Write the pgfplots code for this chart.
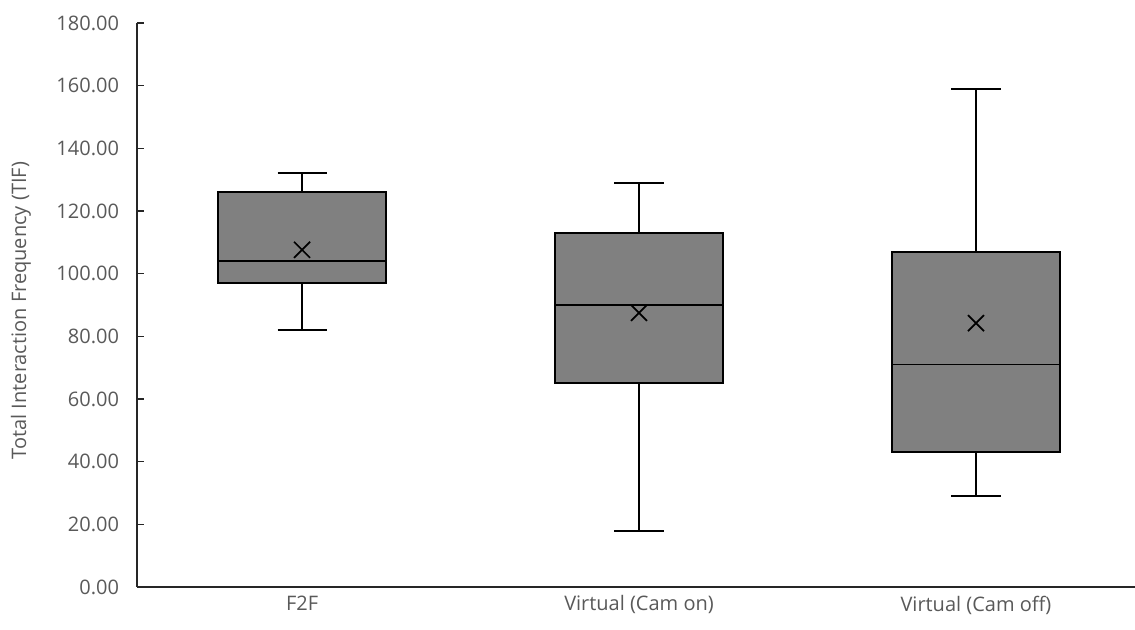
\documentclass[border=0pt]{standalone}
\usepackage{fontspec}
\setmainfont{Open Sans}
\usepackage{pgfplots}
\pgfplotsset{compat=1.18}
\usepgfplotslibrary{statistics}
\definecolor{txt}{RGB}{89,89,89}
\definecolor{boxfill}{RGB}{128,128,128}
\begin{document}
\begin{tikzpicture}
\path[use as bounding box] (-102.75pt,-32.25pt) rectangle (748.5pt,440.25pt);
\begin{axis}[
  at={(0,0)}, anchor=south west,
  scale only axis, width=748.5pt, height=423pt,
  xmin=-0.49, xmax=2.472, ymin=0, ymax=180,
  axis x line=bottom, axis y line=left,
  axis line style={-, line width=1.2pt, black!85},
  tick align=inside, major tick length=5pt,
  xtick={0,1,2},
  xticklabels={F2F, Virtual (Cam on), Virtual (Cam off)},
  ytick={0,20,...,180},
  x tick style={draw=none},
  y tick style={line width=1.2pt, black!85},
  tick label style={font=\fontsize{15}{18}\selectfont, color=txt},
  yticklabel style={xshift=-10pt},
  xticklabel style={yshift=-3pt},
  /pgf/number format/.cd, fixed, fixed zerofill, precision=2, assume math mode=true,
  /pgfplots/.cd,
  boxplot/draw direction=y,
  ylabel={Total Interaction Frequency (TIF)},
  every axis y label/.style={at={(axis description cs:-0.1162,0.49)}, anchor=center, rotate=90, font=\fontsize{15}{18}\selectfont, color=txt},
  clip=false,
]
\addplot[boxplot prepared={draw position=0, lower whisker=82, lower quartile=97, median=104, upper quartile=126, upper whisker=132, box extend=0.5, whisker extend=0.146}, fill=boxfill, draw=black, line width=1.4pt] coordinates {};
\addplot[boxplot prepared={draw position=1, lower whisker=18, lower quartile=65, median=90, upper quartile=113, upper whisker=129, box extend=0.5, whisker extend=0.146}, fill=boxfill, draw=black, line width=1.4pt] coordinates {};
\addplot[boxplot prepared={draw position=2, lower whisker=29, lower quartile=43, median=71, upper quartile=107, upper whisker=159, box extend=0.5, whisker extend=0.146}, fill=boxfill, draw=black, line width=1.4pt] coordinates {};
\addplot[only marks, mark=x, mark size=8.5pt, line width=1.3pt, black] coordinates {(0,107.6) (1,87.5) (2,84.2)};
\end{axis}
\end{tikzpicture}
\end{document}
